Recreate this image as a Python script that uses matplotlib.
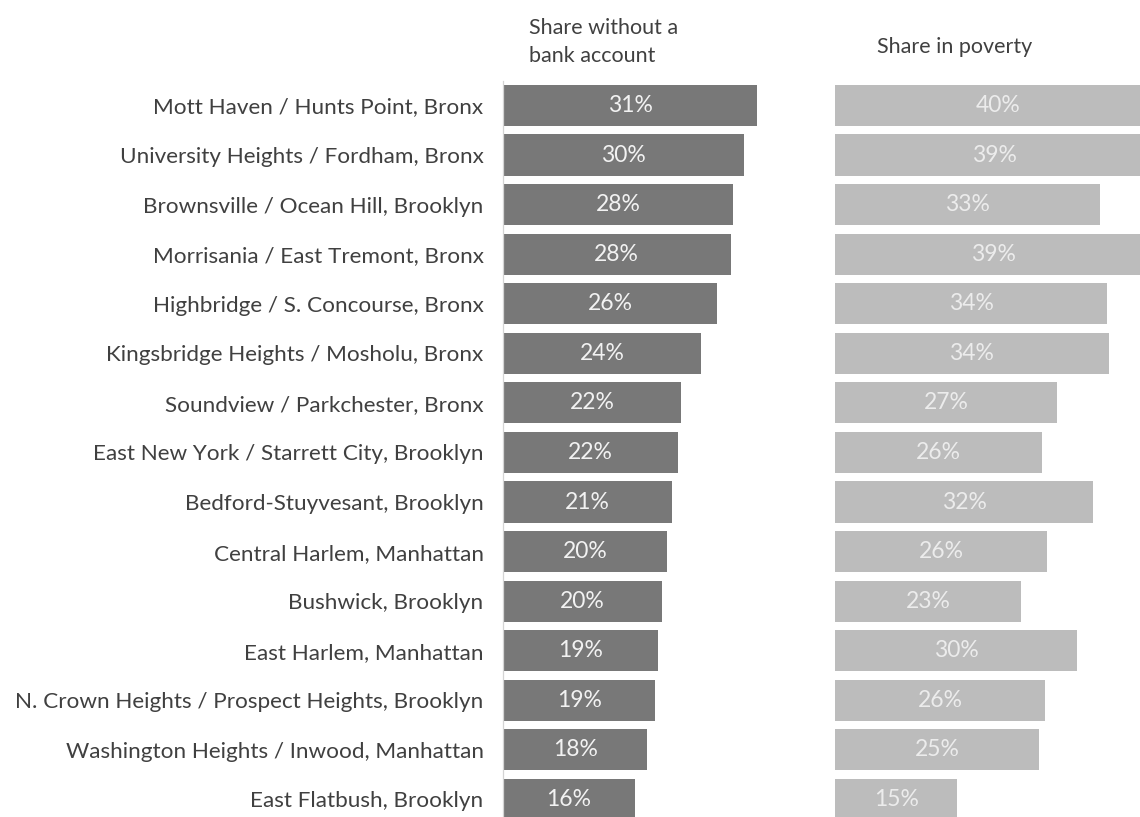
import matplotlib.pyplot as plt

plt.rcParams['font.family'] = ['Lato', 'DejaVu Sans']

neighborhoods = [
    "Mott Haven / Hunts Point, Bronx",
    "University Heights / Fordham, Bronx",
    "Brownsville / Ocean Hill, Brooklyn",
    "Morrisania / East Tremont, Bronx",
    "Highbridge / S. Concourse, Bronx",
    "Kingsbridge Heights / Mosholu, Bronx",
    "Soundview / Parkchester, Bronx",
    "East New York / Starrett City, Brooklyn",
    "Bedford-Stuyvesant, Brooklyn",
    "Central Harlem, Manhattan",
    "Bushwick, Brooklyn",
    "East Harlem, Manhattan",
    "N. Crown Heights / Prospect Heights, Brooklyn",
    "Washington Heights / Inwood, Manhattan",
    "East Flatbush, Brooklyn",
]
unbanked = [31.4, 29.8, 28.4, 28.1, 26.4, 24.4, 22.0, 21.6, 20.9, 20.3, 19.6, 19.1, 18.8, 17.8, 16.3]
poverty = [40.2, 39.3, 32.7, 39.1, 33.6, 33.8, 27.4, 25.6, 31.9, 26.2, 23.0, 29.9, 25.9, 25.2, 15.1]

W, H = 1140, 817
fig = plt.figure(figsize=(W / 100, H / 100), dpi=100)

# both panels share the same px-per-percent scale
px_per_pct = 8.1
row_px = 49.57
top_px = 105.5 - row_px / 2
y_bottom = (H - 105.5) / row_px
ax_h = (H - top_px) / H


def panel(x0, x1):
    ax = fig.add_axes([x0 / W, 0, (x1 - x0) / W, ax_h])
    ax.set_xlim(0, (x1 - x0) / px_per_pct)
    ax.set_ylim(y_bottom, -0.5)
    for s in ax.spines.values():
        s.set_visible(False)
    ax.set_xticks([])
    return ax


ypos = list(range(len(neighborhoods)))

ax1 = panel(503, 810)
ax1.barh(ypos, unbanked, height=0.83, color='#787878')
ax1.spines['left'].set_visible(True)
ax1.spines['left'].set_color('#d4d4d4')
ax1.spines['left'].set_linewidth(0.9)
ax1.set_yticks(ypos)
ax1.set_yticklabels(neighborhoods, fontsize=16.2, color='#404040')
ax1.tick_params(axis='y', length=0, pad=14)
for y, v in zip(ypos, unbanked):
    ax1.text(v / 2, y, f"{v:.0f}%", ha='center', va='center',
             fontsize=16.5, color='#f2f2f2')

ax2 = panel(835, W)
ax2.barh(ypos, poverty, height=0.83, color='#bcbcbc')
ax2.set_yticks([])
for y, v in zip(ypos, poverty):
    ax2.text(v / 2, y, f"{v:.0f}%", ha='center', va='center',
             fontsize=16.5, color='#ececec')

fig.text(529 / W, 1 - 42 / H, "Share without a\nbank account", ha='left',
         va='center', fontsize=15.5, color='#404040', linespacing=1.45)
fig.text(877 / W, 1 - 47 / H, "Share in poverty", ha='left', va='center',
         fontsize=15.5, color='#404040')

fig.savefig('out.png', dpi=100)
